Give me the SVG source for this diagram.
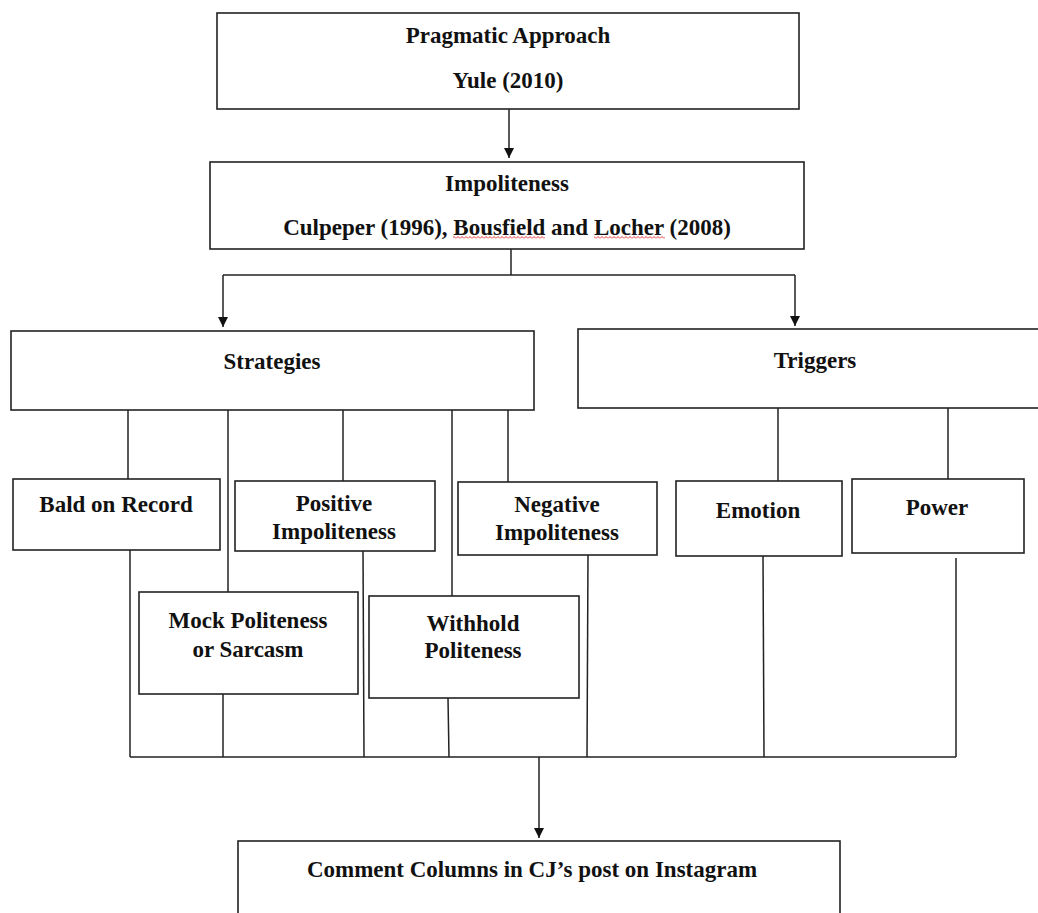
<svg xmlns="http://www.w3.org/2000/svg" width="1038" height="913" viewBox="0 0 1038 913">
<style>
.box{fill:#fff;stroke:#222;stroke-width:1.6}
.t{font-family:"Liberation Serif","Times New Roman",serif;font-weight:bold;font-size:23px;fill:#111;text-anchor:middle}
.ln{stroke:#222;stroke-width:1.5;fill:none}
</style>
<defs>
<marker id="ah" viewBox="0 0 10 10" refX="10" refY="5" markerWidth="11" markerHeight="10" orient="auto" markerUnits="userSpaceOnUse">
<path d="M0,0 L10,5 L0,10 Z" fill="#111"/>
</marker>
<pattern id="sq" x="0" y="236" width="4" height="3" patternUnits="userSpaceOnUse">
<path d="M0,2.5 L2,0.5 L4,2.5" stroke="#e02020" stroke-width="0.9" fill="none"/>
</pattern>
</defs>
<rect width="1038" height="913" fill="#fff"/>
<g id="connectors">
<line class="ln" x1="509" y1="109" x2="509" y2="158" marker-end="url(#ah)"/>
<line class="ln" x1="511" y1="249" x2="511" y2="275"/>
<line class="ln" x1="223" y1="275" x2="795" y2="275"/>
<line class="ln" x1="223" y1="275" x2="223" y2="327" marker-end="url(#ah)"/>
<line class="ln" x1="795" y1="275" x2="795" y2="326" marker-end="url(#ah)"/>
<line class="ln" x1="128" y1="410" x2="128" y2="479"/>
<line class="ln" x1="228" y1="410" x2="228" y2="592"/>
<line class="ln" x1="343" y1="410" x2="343" y2="481"/>
<line class="ln" x1="452" y1="410" x2="452" y2="596"/>
<line class="ln" x1="508" y1="410" x2="508" y2="482"/>
<line class="ln" x1="778" y1="408" x2="778" y2="481"/>
<line class="ln" x1="948" y1="408" x2="948" y2="479"/>
<line class="ln" x1="130" y1="550" x2="130" y2="757"/>
<line class="ln" x1="223" y1="694" x2="223" y2="757"/>
<line class="ln" x1="363" y1="551" x2="364" y2="757"/>
<line class="ln" x1="448" y1="698" x2="449" y2="757"/>
<line class="ln" x1="588" y1="555" x2="587" y2="757"/>
<line class="ln" x1="763" y1="556" x2="764" y2="757"/>
<line class="ln" x1="956" y1="558" x2="956" y2="757"/>
<line class="ln" x1="130" y1="757" x2="956" y2="757"/>
<line class="ln" x1="539" y1="757" x2="539" y2="838" marker-end="url(#ah)"/>
</g>
<g id="node-pragmatic">
<rect class="box" x="217" y="13" width="582" height="96"/>
<text class="t" x="508" y="43">Pragmatic Approach</text>
<text class="t" x="508" y="88">Yule (2010)</text>
</g>
<g id="node-impoliteness">
<rect class="box" x="210" y="162" width="594" height="87"/>
<text class="t" x="507" y="191">Impoliteness</text>
<text class="t" x="507" y="235">Culpeper (1996), Bousfield and Locher (2008)</text>
<rect x="453" y="236" width="92" height="3" fill="url(#sq)"/>
<rect x="594" y="236" width="71" height="3" fill="url(#sq)"/>
</g>
<g id="node-strategies">
<rect class="box" x="11" y="331" width="523" height="79"/>
<text class="t" x="272" y="369">Strategies</text>
</g>
<g id="node-triggers">
<rect class="box" x="578" y="329" width="474" height="79"/>
<text class="t" x="815" y="368">Triggers</text>
</g>
<g id="node-bald">
<rect class="box" x="13" y="479" width="207" height="71"/>
<text class="t" x="116" y="512">Bald on Record</text>
</g>
<g id="node-positive">
<rect class="box" x="235" y="481" width="200" height="70"/>
<text class="t" x="334" y="511">Positive</text>
<text class="t" x="334" y="539">Impoliteness</text>
</g>
<g id="node-negative">
<rect class="box" x="458" y="482" width="199" height="73"/>
<text class="t" x="557" y="512">Negative</text>
<text class="t" x="557" y="540">Impoliteness</text>
</g>
<g id="node-emotion">
<rect class="box" x="676" y="481" width="166" height="75"/>
<text class="t" x="758" y="518">Emotion</text>
</g>
<g id="node-power">
<rect class="box" x="852" y="479" width="172" height="74"/>
<text class="t" x="937" y="515">Power</text>
</g>
<g id="node-mock">
<rect class="box" x="139" y="592" width="219" height="102"/>
<text class="t" x="248" y="628">Mock Politeness</text>
<text class="t" x="248" y="657">or Sarcasm</text>
</g>
<g id="node-withhold">
<rect class="box" x="369" y="596" width="210" height="102"/>
<text class="t" x="473" y="631">Withhold</text>
<text class="t" x="473" y="658">Politeness</text>
</g>
<g id="node-comment">
<rect class="box" x="238" y="841" width="602" height="100"/>
<text class="t" x="532" y="877">Comment Columns in CJ’s post on Instagram</text>
</g>
</svg>
